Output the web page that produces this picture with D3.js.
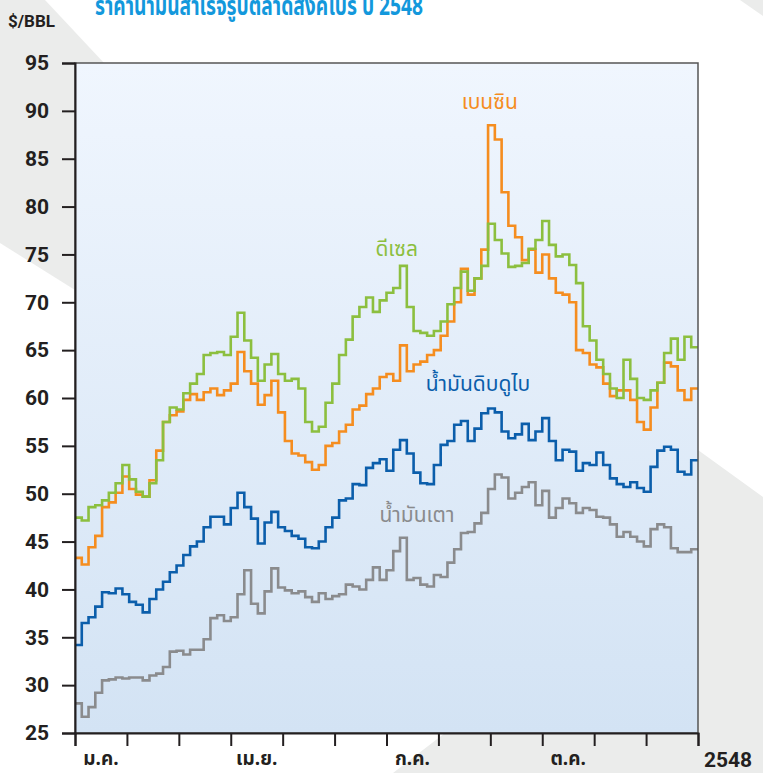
<!DOCTYPE html>
<html>
<head>
<meta charset="utf-8">
<script src="https://cdn.jsdelivr.net/npm/d3@7"></script>
<style>
    html, body { margin: 0; padding: 0; background: #fff; overflow: hidden; }
</style>
</head>
<body>
<div id="dataChart"></div>
<script>
// sample days (every 4 days through 2548)
const days = [0, 4, 8, 12, 16, 20, 24, 28, 32, 36, 40, 44, 48, 52, 56, 60, 64, 68, 72, 76,
    80, 84, 88, 92, 96, 100, 104, 108, 112, 116, 120, 124, 128, 132, 136, 140, 144, 148, 152, 156,
    160, 164, 168, 172, 176, 180, 184, 188, 192, 196, 200, 204, 208, 212, 216, 220, 224, 228, 232, 236,
    240, 244, 248, 252, 256, 260, 264, 268, 272, 276, 280, 284, 288, 292, 296, 300, 304, 308, 312, 316,
    320, 324, 328, 332, 336, 340, 344, 348, 352, 356, 360, 364]

const benzine = [43.3, 42.6, 44.4, 45.6, 48.6, 49.1, 50.1, 51.8, 50.5, 49.9, 49.7, 51.4, 54.5, 57.5, 58.2, 58.6, 59.8, 60.4, 59.8, 60.6,
    61.0, 60.3, 60.8, 61.5, 64.8, 62.8, 61.5, 59.3, 60.3, 61.8, 58.5, 55.5, 54.2, 54.0, 53.3, 52.5, 53.0, 55.0, 55.3, 56.5,
    57.2, 58.8, 59.2, 60.4, 61.0, 62.2, 62.5, 61.8, 65.5, 62.8, 63.5, 63.8, 64.5, 65.0, 66.5, 68.0, 70.0, 73.5, 70.8, 72.5,
    75.5, 88.5, 87.0, 81.5, 78.0, 76.8, 74.4, 75.5, 73.1, 75.0, 72.5, 71.0, 70.8, 70.0, 65.0, 64.7, 63.5, 63.2, 61.5, 60.2,
    60.8, 60.8, 59.8, 57.5, 56.7, 59.0, 61.6, 63.7, 63.3, 60.8, 59.8, 61.0]

const diesel = [47.5, 47.2, 48.6, 48.8, 49.3, 50.1, 51.1, 53.0, 51.5, 50.2, 49.7, 51.1, 53.5, 57.5, 59.0, 58.8, 60.5, 61.5, 62.5, 64.5,
    64.7, 64.8, 64.5, 66.4, 68.9, 66.0, 64.2, 61.8, 63.5, 64.6, 62.5, 61.8, 62.0, 61.0, 57.5, 56.5, 57.0, 59.5, 61.5, 64.5,
    66.1, 68.5, 69.5, 70.5, 69.0, 70.2, 71.0, 71.5, 73.8, 69.5, 67.0, 66.8, 66.5, 67.0, 68.0, 69.8, 71.5, 73.2, 71.2, 72.5,
    73.8, 78.2, 76.5, 75.1, 73.7, 73.8, 74.1, 75.6, 76.5, 78.5, 76.0, 74.8, 75.0, 73.9, 72.0, 67.5, 66.0, 64.0, 62.5, 61.0,
    60.0, 64.0, 62.0, 60.0, 59.8, 60.8, 61.6, 64.7, 66.2, 64.0, 66.4, 65.3]

const dubai = [34.2, 36.5, 37.1, 38.2, 39.7, 39.6, 40.1, 39.5, 38.7, 38.4, 37.6, 39.0, 40.0, 40.8, 41.8, 42.5, 43.6, 44.5, 45.0, 46.5,
    47.6, 47.6, 46.8, 48.5, 50.1, 48.6, 47.4, 44.8, 47.0, 48.1, 46.5, 46.1, 45.6, 45.3, 44.4, 44.3, 45.0, 46.5, 47.5, 49.3,
    49.5, 51.0, 50.9, 52.7, 53.2, 53.6, 52.4, 54.6, 55.6, 54.2, 52.2, 51.1, 51.0, 53.0, 55.1, 55.5, 57.2, 57.6, 55.5, 56.8,
    58.4, 58.9, 58.5, 56.5, 55.8, 56.2, 57.3, 55.6, 56.5, 57.9, 55.5, 53.5, 54.6, 54.4, 52.4, 53.2, 53.0, 54.3, 53.0, 51.6,
    51.0, 50.7, 51.2, 50.6, 50.2, 52.8, 54.5, 54.9, 54.6, 52.3, 52.0, 53.5]

const fuelOil = [28.1, 26.7, 27.7, 29.2, 30.5, 30.6, 30.8, 30.7, 30.8, 30.8, 30.5, 31.0, 31.2, 31.9, 33.5, 33.6, 33.2, 33.7, 33.7, 34.8,
    37.0, 37.3, 36.7, 37.1, 39.5, 42.0, 38.5, 37.5, 39.8, 42.2, 40.2, 39.9, 39.6, 39.8, 39.2, 38.7, 39.6, 39.0, 39.3, 39.5,
    40.5, 40.3, 40.0, 41.0, 42.3, 41.0, 42.0, 44.0, 45.4, 41.0, 41.2, 40.5, 40.3, 41.5, 41.3, 42.8, 44.2, 45.9, 46.0, 46.9,
    48.0, 50.5, 52.0, 51.7, 49.5, 50.1, 50.7, 51.2, 48.8, 50.3, 47.5, 48.5, 49.5, 49.0, 48.0, 48.5, 48.3, 47.6, 47.5, 46.8,
    45.5, 46.0, 45.5, 45.0, 44.5, 46.3, 46.8, 46.5, 44.3, 43.9, 43.9, 44.2]

const seriesNames = ['เบนซิน', 'ดีเซล', 'น้ำมันดิบดูไบ', 'น้ำมันเตา']
const seriesColours = ['#f58d1f', '#8cbf3f', '#0b5eab', '#8a8b8d']
// where each series name sits: [day, $/BBL]
const seriesLabelAt = [[245, 90.2], [190, 74.8], [238, 60.7], [202, 47.0]]

const yTicks = [25, 30, 35, 40, 45, 50, 55, 60, 65, 70, 75, 80, 85, 90, 95]
const monthTicks = [0, 1, 2, 3, 4, 5, 6, 7, 8, 9, 10, 11, 12]
const monthLabels = ['ม.ค.', 'เม.ย.', 'ก.ค.', 'ต.ค.']
const monthLabelAt = [0, 3, 6, 9]
const yearLabel = '2548'
const titleText = 'ราคาน้ำมันสำเร็จรูปตลาดสิงคโปร์ ปี 2548'

document.addEventListener('DOMContentLoaded', () => {
    const viewBoxWidth = 763
    const viewBoxHeight = 773
    const plotLeft = 75
    const plotRight = 698
    const plotTop = 63
    const plotBottom = 733
    const numFont = "'Liberation Sans Narrow', 'Arial Narrow', 'Roboto', sans-serif"
    const thaiFont = "'Noto Sans Thai', 'Noto Sans Thai UI', 'Loma', 'Garuda', 'Tlwg Typist', sans-serif"
    const inkColour = '#231f20'

    const svg = d3.select('#dataChart')
        .append('svg')
        .attr('width', viewBoxWidth)
        .attr('height', viewBoxHeight)
        .attr('viewBox', [0, 0, viewBoxWidth, viewBoxHeight])
        .style('display', 'block')
    const defs = svg.append('defs')

    // Backdrop: grey diagonal shapes behind the chart
    const bgGrey = '#ebeceb'
    svg.append('polygon')
        .attr('points', '0,0 45,0 104,63 104,300 75,290 0,243')
        .attr('fill', bgGrey)
    svg.append('polygon')
        .attr('points', '393,773 445,733 698,450 763,497 763,773')
        .attr('fill', bgGrey)
    svg.append('polygon')
        .attr('points', '740,0 763,0 763,16')
        .attr('fill', bgGrey)

    // Title (sits right at the page top, as in the source)
    svg.append('text')
        .attr('x', 95)
        .attr('y', 15)
        .attr('fill', '#1398dc')
        .attr('font-family', thaiFont)
        .attr('font-weight', 'bold')
        .attr('font-size', 26)
        .attr('textLength', 328)
        .attr('lengthAdjust', 'spacingAndGlyphs')
        .text(titleText)

    // Scales
    const x = d3.scaleLinear().domain([0, 368]).range([plotLeft, plotRight])
    const xMonth = d3.scaleLinear().domain([0, 12]).range([plotLeft, plotRight])
    const y = d3.scaleLinear().domain([25, 95]).range([plotBottom, plotTop])

    // Plot background gradient
    const grad = defs.append('linearGradient')
        .attr('id', 'plot-bg')
        .attr('x1', 0).attr('y1', 0).attr('x2', 0).attr('y2', 1)
    grad.append('stop').attr('offset', '0%').attr('stop-color', '#f0f6fe')
    grad.append('stop').attr('offset', '100%').attr('stop-color', '#d3e3f4')
    svg.append('rect')
        .attr('x', plotLeft)
        .attr('y', plotTop)
        .attr('width', plotRight - plotLeft)
        .attr('height', plotBottom - plotTop)
        .attr('fill', 'url(#plot-bg)')

    // Series lines
    const allSeries = [benzine, diesel, dubai, fuelOil]
    const line = d3.line()
        .x(d => x(d[0]))
        .y(d => y(d[1]))
        .curve(d3.curveStepAfter)
    const drawOrder = [3, 2, 0, 1]
    svg.append('g')
        .attr('id', 'chart-lines')
        .selectAll('path')
        .data(drawOrder)
        .enter()
        .append('path')
        .attr('fill', 'none')
        .attr('stroke', i => seriesColours[i])
        .attr('stroke-width', 2.6)
        .attr('stroke-linejoin', 'miter')
        .attr('d', i => {
            const pts = days.map((d, j) => [d, allSeries[i][j]])
            pts.push([x.domain()[1], allSeries[i][allSeries[i].length - 1]])
            return line(pts)
        })

    // Series names
    svg.append('g')
        .selectAll('text')
        .data(seriesNames)
        .enter()
        .append('text')
        .attr('x', (d, i) => x(seriesLabelAt[i][0]))
        .attr('y', (d, i) => y(seriesLabelAt[i][1]))
        .attr('text-anchor', 'middle')
        .attr('fill', (d, i) => seriesColours[i])
        .attr('font-family', thaiFont)
        .attr('font-size', 21)
        .text(d => d)

    // Plot frame
    svg.append('rect')
        .attr('x', plotLeft)
        .attr('y', plotTop)
        .attr('width', plotRight - plotLeft)
        .attr('height', plotBottom - plotTop)
        .attr('fill', 'none')
        .attr('stroke', '#555')
        .attr('stroke-width', 1.5)

    // y-axis
    const yAxis = svg.append('g')
        .attr('transform', `translate(${plotLeft}, 0)`)
        .call(d3.axisLeft(y).tickValues(yTicks).tickSize(13).tickPadding(13))
    yAxis.select('.domain').attr('stroke', inkColour).attr('stroke-width', 2)
    yAxis.selectAll('.tick line').attr('stroke', inkColour).attr('stroke-width', 2)
    yAxis.selectAll('.tick text')
        .attr('fill', inkColour)
        .attr('font-family', numFont)
        .attr('font-weight', 'bold')
        .attr('font-size', 21)

    // x-axis
    const xAxis = svg.append('g')
        .attr('transform', `translate(0, ${plotBottom})`)
        .call(d3.axisBottom(xMonth).tickValues(monthTicks).tickSize(13).tickFormat(''))
    xAxis.select('.domain').attr('stroke', inkColour).attr('stroke-width', 2)
    xAxis.selectAll('.tick line').attr('stroke', inkColour).attr('stroke-width', 2)

    svg.append('g')
        .selectAll('text')
        .data(monthLabels)
        .enter()
        .append('text')
        .attr('x', (d, i) => xMonth(monthLabelAt[i] + 0.5))
        .attr('y', 765)
        .attr('text-anchor', 'middle')
        .attr('fill', inkColour)
        .attr('font-family', thaiFont)
        .attr('font-weight', 'bold')
        .attr('font-size', 19)
        .text(d => d)

    svg.append('text')
        .attr('x', 728)
        .attr('y', 767)
        .attr('text-anchor', 'middle')
        .attr('fill', inkColour)
        .attr('font-family', numFont)
        .attr('font-weight', 'bold')
        .attr('font-size', 21)
        .text(yearLabel)

    // unit label
    svg.append('text')
        .attr('x', 8)
        .attr('y', 27)
        .attr('fill', inkColour)
        .attr('font-family', numFont)
        .attr('font-weight', 'bold')
        .attr('font-size', 17)
        .text('$/BBL')
})
</script>
</body>
</html>
